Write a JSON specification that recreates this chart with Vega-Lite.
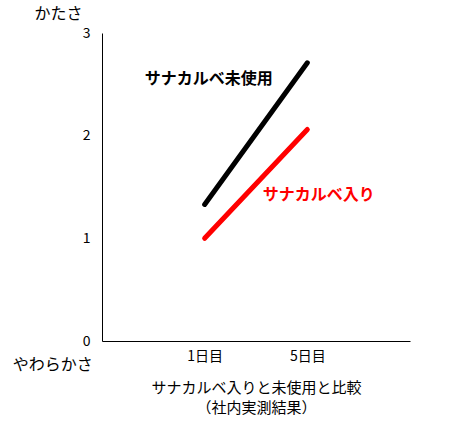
{
  "$schema": "https://vega.github.io/schema/vega-lite/v6.json",
  "width": 308,
  "height": 308,
  "autosize": {"type": "none"},
  "padding": {"left": 102, "top": 33, "right": 44, "bottom": 85},
  "background": "white",
  "config": {
    "view": {"stroke": null},
    "font": "Noto Sans CJK JP"
  },
  "datasets": {
    "series": [
      {"series": "サナカルベ未使用", "day": 1, "value": 1.33},
      {"series": "サナカルベ未使用", "day": 2, "value": 2.71},
      {"series": "サナカルベ入り", "day": 1, "value": 1.0},
      {"series": "サナカルベ入り", "day": 2, "value": 2.06}
    ],
    "labels": [
      {"series": "サナカルベ未使用", "label": "サナカルベ未使用", "x": 1.04, "y": 2.55},
      {"series": "サナカルベ入り", "label": "サナカルベ入り", "x": 2.11, "y": 1.42}
    ],
    "bottom": [
      {"label": "やわらかさ", "x": -0.48, "y": -0.235}
    ]
  },
  "layer": [
    {
      "data": {"name": "series"},
      "mark": {"type": "line", "strokeWidth": 5, "strokeCap": "round"},
      "encoding": {
        "x": {
          "field": "day", "type": "quantitative",
          "scale": {"domain": [0, 3], "nice": false, "zero": false},
          "axis": {
            "values": [1, 2],
            "labelExpr": "datum.value == 1 ? '1日目' : '5日目'",
            "ticks": false, "grid": false,
            "domainColor": "black", "domainWidth": 1,
            "labelFontSize": 14, "labelColor": "black", "labelPadding": 8,
            "title": ["サナカルベ入りと未使用と比較", "（社内実測結果）"],
            "titleFontSize": 15, "titleFontWeight": "normal", "titleColor": "black",
            "titlePadding": 17, "titleLineHeight": 20
          }
        },
        "y": {
          "field": "value", "type": "quantitative",
          "scale": {"domain": [0, 3], "nice": false},
          "axis": {
            "values": [0, 1, 2, 3],
            "format": "d",
            "ticks": false, "grid": false,
            "domainColor": "black", "domainWidth": 1,
            "labelFontSize": 14, "labelColor": "black", "labelPadding": 12,
            "title": "かたさ", "titleAngle": 0, "titleX": -44, "titleY": -20,
            "titleAlign": "center", "titleBaseline": "middle",
            "titleFontSize": 16, "titleFontWeight": "normal", "titleColor": "black"
          }
        },
        "color": {
          "field": "series", "type": "nominal",
          "scale": {"domain": ["サナカルベ未使用", "サナカルベ入り"], "range": ["black", "#ff0000"]},
          "legend": null
        },
        "detail": {"field": "series"}
      }
    },
    {
      "data": {"name": "labels"},
      "mark": {"type": "text", "fontSize": 16, "fontWeight": "bold", "align": "center", "baseline": "middle"},
      "encoding": {
        "x": {"field": "x", "type": "quantitative"},
        "y": {"field": "y", "type": "quantitative"},
        "text": {"field": "label"},
        "color": {"field": "series", "type": "nominal", "legend": null}
      }
    },
    {
      "data": {"name": "bottom"},
      "mark": {"type": "text", "fontSize": 16, "align": "center", "baseline": "middle", "color": "black"},
      "encoding": {
        "x": {"field": "x", "type": "quantitative"},
        "y": {"field": "y", "type": "quantitative"},
        "text": {"field": "label"}
      }
    }
  ]
}
